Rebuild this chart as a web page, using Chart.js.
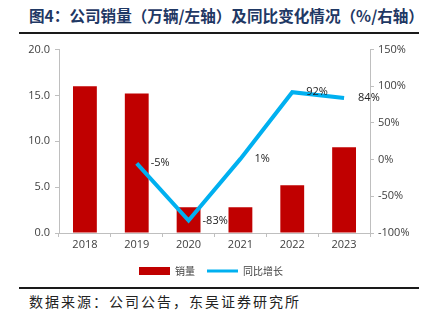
<!DOCTYPE html>
<html>
<head>
<meta charset="utf-8">
<script src="https://cdn.jsdelivr.net/npm/chart.js@4.4.1/dist/chart.umd.min.js"></script>
<style>
  html, body { margin: 0; padding: 0; background: #fff; }
  body { width: 422px; height: 324px; position: relative; overflow: hidden; }
  #title {
    position: absolute; left: 29px; top: 5px;
    font-family: "Noto Sans CJK SC", sans-serif; font-weight: bold;
    font-size: 15.6px; line-height: 20px; color: #1f3864; white-space: nowrap;
  }
  .rule { position: absolute; left: 19px; width: 400px; height: 2px; background: #1a1a1a; }
  #source {
    position: absolute; left: 29px; top: 291px;
    font-family: "Noto Sans CJK SC", sans-serif; font-size: 14px; line-height: 20px;
    letter-spacing: 2px; color: #222; white-space: nowrap;
  }
  #wrap { position: absolute; left: 0; top: 38px; width: 422px; height: 248px; }
  canvas { display: block; }
</style>
</head>
<body>
<div id="title">图4：公司销量（万辆/左轴）及同比变化情况（%/右轴）</div>
<div class="rule" style="top:32px"></div>
<div id="wrap"><canvas id="c" width="422" height="248"></canvas></div>
<div class="rule" style="top:287px"></div>
<div id="source">数据来源：公司公告，东吴证券研究所</div>
<script>
// Annual sales (10k units, left axis) and YoY change (%, right axis)
const years = ['2018', '2019', '2020', '2021', '2022', '2023'];
const sales = [16.0, 15.2, 2.8, 2.8, 5.2, 9.35];
const yoy = [null, -5, -83, 1, 92, 84];
const leftTicks = [0, 5, 10, 15, 20];
const rightTicks = [-100, -50, 0, 50, 100, 150];

const tickFont = { family: '"Open Sans", "Noto Sans", sans-serif', size: 11 };
const axisColor = '#bfbfbf';
const textColor = '#404040';

// Value labels placed just right of each YoY point
const yoyLabels = {
  id: 'yoyLabels',
  afterDatasetsDraw(chart) {
    const meta = chart.getDatasetMeta(1);
    const ctx = chart.ctx;
    ctx.save();
    ctx.font = '11px "Open Sans", "Noto Sans", sans-serif';
    ctx.fillStyle = '#222';
    ctx.textAlign = 'left';
    ctx.textBaseline = 'middle';
    meta.data.forEach((pt, i) => {
      const v = yoy[i];
      if (v === null || v === undefined) return;
      ctx.fillText(v + '%', pt.x + 14, pt.y);
    });
    ctx.restore();
  }
};

new Chart(document.getElementById('c'), {
  data: {
    labels: years,
    datasets: [
      {
        type: 'bar',
        label: '销量',
        data: sales,
        backgroundColor: '#c00000',
        borderWidth: 0,
        barPercentage: 0.46,
        categoryPercentage: 1,
        yAxisID: 'y',
        order: 2,
        pointStyle: 'rect'
      },
      {
        type: 'line',
        label: '同比增长',
        data: yoy,
        borderColor: '#00b0f0',
        backgroundColor: '#00b0f0',
        borderWidth: 4,
        borderJoinStyle: 'miter',
        borderCapStyle: 'butt',
        pointRadius: 0,
        pointHoverRadius: 0,
        tension: 0,
        spanGaps: false,
        yAxisID: 'y1',
        order: 1,
        pointStyle: 'line'
      }
    ]
  },
  options: {
    responsive: false,
    animation: false,
    devicePixelRatio: 1,
    layout: { autoPadding: false, padding: { top: 11, left: 0, right: 0, bottom: 0 } },
    plugins: {
      tooltip: { enabled: false },
      legend: {
        position: 'bottom',
        labels: {
          usePointStyle: true,
          pointStyleWidth: 31,
          boxHeight: 8,
          padding: 12,
          color: textColor,
          font: { family: '"Noto Sans CJK SC", sans-serif', size: 10 },
          sort: (a, b) => a.datasetIndex - b.datasetIndex,
          generateLabels(chart) {
            const items = Chart.defaults.plugins.legend.labels.generateLabels(chart);
            items.forEach(it => { if (it.datasetIndex === 1) it.lineWidth = 3; });
            return items;
          }
        }
      }
    },
    scales: {
      x: {
        offset: true,
        grid: { display: true, drawOnChartArea: false, offset: true, tickLength: 4, color: axisColor },
        border: { color: axisColor },
        ticks: { color: textColor, font: tickFont, padding: 1 },
        afterFit(s) { s.height = 21; }
      },
      y: {
        position: 'left',
        min: 0, max: 20,
        afterBuildTicks(s) { s.ticks = leftTicks.map(v => ({ value: v })); },
        grid: { drawOnChartArea: false, tickLength: 4, color: axisColor },
        border: { color: axisColor },
        ticks: { color: textColor, font: tickFont, padding: 5, callback: v => v.toFixed(1) },
        afterFit(s) { s.width = 59; }
      },
      y1: {
        position: 'right',
        min: -100, max: 150,
        afterBuildTicks(s) { s.ticks = rightTicks.map(v => ({ value: v })); },
        grid: { drawOnChartArea: false, tickLength: 4, color: axisColor },
        border: { color: axisColor },
        ticks: { color: textColor, font: tickFont, padding: 4, callback: v => v + '%' },
        afterFit(s) { s.width = 52; }
      }
    }
  },
  plugins: [yoyLabels]
});
</script>
</body>
</html>
